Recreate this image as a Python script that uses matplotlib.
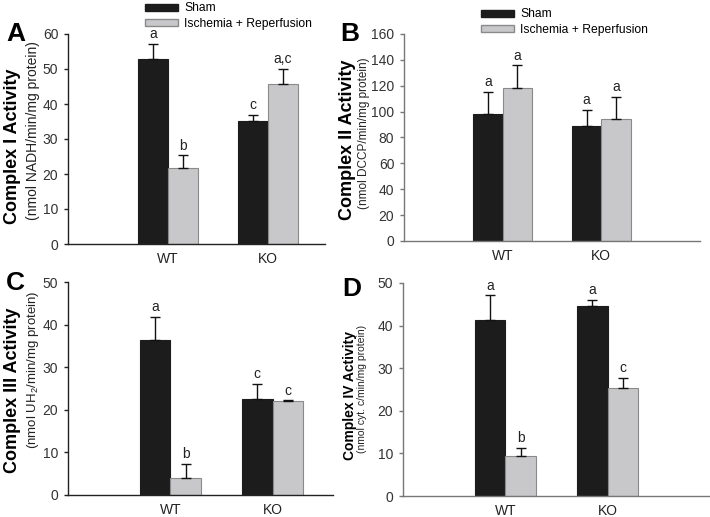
import matplotlib as mpl
mpl.use("Agg")

import matplotlib.pyplot as plt
from matplotlib.patches import Patch
import numpy as np

plt.rcParams['font.family'] = ['Liberation Sans', 'DejaVu Sans']

groups = ["WT", "KO"]
series = ["Sham", "Ischemia + Reperfusion"]

# mean values (Sham, I/R) per group, and upward SEM
c1_sham = [52.8, 35.2]
c1_ir = [21.8, 45.6]
c1_sham_err = [4.3, 1.7]
c1_ir_err = [3.5, 4.4]
c1_sham_sig = ["a", "c"]
c1_ir_sig = ["b", "a,c"]

c2_sham = [98.5, 89.2]
c2_ir = [118.4, 94.1]
c2_sham_err = [17.0, 12.4]
c2_ir_err = [17.3, 17.0]
c2_sham_sig = ["a", "a"]
c2_ir_sig = ["a", "a"]

c3_sham = [36.3, 22.6]
c3_ir = [3.9, 22.0]
c3_sham_err = [5.6, 3.4]
c3_ir_err = [3.4, 0.2]
c3_sham_sig = ["a", "c"]
c3_ir_sig = ["b", "c"]

c4_sham = [41.4, 44.6]
c4_ir = [9.5, 25.4]
c4_sham_err = [5.7, 1.4]
c4_ir_err = [1.8, 2.4]
c4_sham_sig = ["a", "a"]
c4_ir_sig = ["b", "c"]

W, H = 710, 517
BLACK = "#1c1c1c"
GREY = "#c8c8ca"


def px_rect(l, r, t, b):
    return [l / W, (H - b) / H, (r - l) / W, (b - t) / H]


def panel(fig, rect, xmax, ymax, ystep, sham, ir, sham_err, ir_err,
          sham_sig, ir_sig, spine_col):
    ax = fig.add_axes(rect)
    x = np.arange(1, len(groups) + 1)
    w = 0.3
    ax.bar(x - w / 2, sham, w, color=BLACK, edgecolor=BLACK, linewidth=0.8)
    ax.bar(x + w / 2, ir, w, color=GREY, edgecolor="#8a8a8a", linewidth=0.8)
    for xs, vals, errs, sigs in [(x - w / 2, sham, sham_err, sham_sig),
                                 (x + w / 2, ir, ir_err, ir_sig)]:
        ax.errorbar(xs, vals, yerr=[np.zeros(len(vals)), errs], fmt="none",
                    ecolor="#111111", elinewidth=1, capsize=3.5, capthick=1)
        for xi, v, e, s in zip(xs, vals, errs, sigs):
            ax.annotate(s, xy=(xi, v + e), xytext=(0, 2),
                        textcoords="offset points", ha="center", va="bottom",
                        fontsize=10, color="#222222")
    ax.set_xlim(0, xmax)
    ax.set_ylim(0, ymax)
    ax.set_yticks(np.arange(0, ymax + 0.1, ystep))
    ax.set_xticks(x)
    ax.set_xticklabels(groups)
    for s in ["top", "right"]:
        ax.spines[s].set_visible(False)
    for s in ["left", "bottom"]:
        ax.spines[s].set_color(spine_col)
        ax.spines[s].set_linewidth(1)
    ax.tick_params(axis="x", length=0, pad=6, labelsize=10, colors="#222222")
    ax.tick_params(axis="y", length=3, width=1, color=spine_col, pad=4,
                   labelsize=10, labelcolor="#333333")
    return ax


fig = plt.figure(figsize=(W / 100, H / 100), dpi=100)

panel(fig, px_rect(68, 325, 34, 244), 2.57, 60, 10, c1_sham, c1_ir,
      c1_sham_err, c1_ir_err, c1_sham_sig, c1_ir_sig, "#222222")
panel(fig, px_rect(404, 700, 34, 241), 3.0, 160, 20, c2_sham, c2_ir,
      c2_sham_err, c2_ir_err, c2_sham_sig, c2_ir_sig, "#777777")
panel(fig, px_rect(68, 333, 282, 495), 2.59, 50, 10, c3_sham, c3_ir,
      c3_sham_err, c3_ir_err, c3_sham_sig, c3_ir_sig, "#222222")
panel(fig, px_rect(403, 710, 283, 496), 3.0, 50, 10, c4_sham, c4_ir,
      c4_sham_err, c4_ir_err, c4_sham_sig, c4_ir_sig, "#777777")

# panel letters
for lbl, xp, yp in [("A", 6, 41), ("B", 340, 41), ("C", 6, 290), ("D", 342, 296)]:
    fig.text(xp / W, 1 - yp / H, lbl, fontsize=19, fontweight="bold",
             ha="left", va="baseline")

# y titles
titles = [
    ("Complex I Activity", 13, 146, 13, "(nmol NADH/min/mg protein)", 33, 131, 10),
    ("Complex II Activity", 348, 140, 13, "(nmol DCCP/min/mg protein)", 364, 133, 8.5),
    ("Complex III Activity", 13, 390, 13, r"(nmol UH$\mathregular{_2}$/min/mg protein)", 33, 370, 9.5),
    ("Complex IV Activity", 350, 395, 10, "(nmol cyt. c/min/mg protein)", 362, 389, 7.5),
]
for t, tx, ty, tfs, s, sx, sy, sfs in titles:
    fig.text(tx / W, 1 - ty / H, t, rotation=90, fontsize=tfs,
             fontweight="bold", ha="center", va="center")
    fig.text(sx / W, 1 - sy / H, s, rotation=90, fontsize=sfs,
             ha="center", va="center", color="#222222")

# legends
handles = [Patch(facecolor=BLACK, edgecolor=BLACK),
           Patch(facecolor=GREY, edgecolor="#8a8a8a")]
for lx, ly in [(143, 0), (479, 6)]:
    fig.legend(handles, series, loc="upper left",
               bbox_to_anchor=(lx / W, 1 - ly / H), frameon=False,
               fontsize=8.7, handlelength=2.7, handleheight=0.55,
               handletextpad=0.5, labelspacing=0.3, borderpad=0.2,
               borderaxespad=0)

fig.savefig("out.png", dpi=100)
